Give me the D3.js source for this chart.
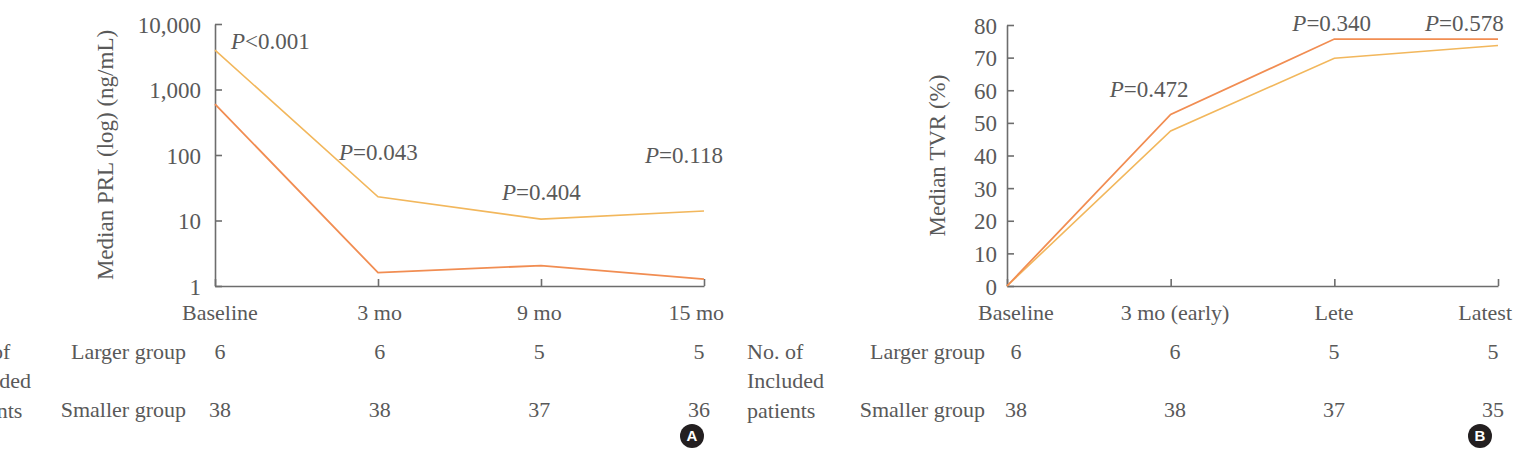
<!DOCTYPE html>
<html>
<head>
<meta charset="utf-8">
<script src="https://cdn.jsdelivr.net/npm/d3@7"></script>
<style>
  body { margin: 0; background: #fff; }
  text { font-family: "Liberation Serif", "Times New Roman", serif; fill: #595959; }
  .axis path, .axis line { stroke: #6d6d6d; stroke-width: 1.6; }
  .axis text { font-size: 23px; fill: #595959; font-family: "Liberation Serif", serif; }
</style>
</head>
<body>
<div id="chart"></div>
<script>
// ---- data ----
var prlCats = ["Baseline", "3 mo", "9 mo", "15 mo"];
var prlLarger = [4000, 23, 10.5, 14];      // yellow
var prlSmaller = [600, 1.6, 2.05, 1.27];   // orange
var prlTicks = [1, 10, 100, 1000, 10000];
var prlP = ["<0.001", "=0.043", "=0.404", "=0.118"];
var prlNLarger = [6, 6, 5, 5];
var prlNSmaller = [38, 38, 37, 36];

var tvrCats = ["Baseline", "3 mo (early)", "Lete", "Latest"];
var tvrLarger = [0, 47.5, 69.8, 73.7];     // yellow
var tvrSmaller = [0, 52.6, 75.7, 75.7];    // orange
var tvrTicks = [0, 10, 20, 30, 40, 50, 60, 70, 80];
var tvrP = ["=0.472", "=0.340", "=0.578"];
var tvrNLarger = [6, 6, 5, 5];
var tvrNSmaller = [38, 38, 37, 35];

var rowLabels = ["Larger group", "Smaller group"];
var blockLabel = ["No. of", "Included", "patients"];

var colLarger = "#f2b75c";
var colSmaller = "#f18d52";

var W = 1516, H = 457;
var svg = d3.select("#chart").append("svg")
    .attr("width", W).attr("height", H);

function panel(opt) {
    var x = d3.scalePoint().domain(opt.cats).range(opt.xr);
    var y = opt.y;

    // axes (inside ticks)
    var ya = svg.append("g").attr("class", "axis")
        .attr("transform", "translate(" + opt.xr[0] + ",0)")
        .call(d3.axisLeft(y).tickValues(opt.ticks).tickFormat(opt.fmt)
            .tickSize(-7).tickSizeOuter(0).tickPadding(opt.pad));
    ya.selectAll("text").attr("dy", "0.35em");

    svg.append("g").attr("class", "axis")
        .attr("transform", "translate(0," + opt.yr[0] + ")")
        .call(d3.axisBottom(x).tickSize(-7).tickSizeOuter(0).tickFormat(""));

    // y title
    svg.append("text")
        .attr("transform", "translate(" + opt.titleX + "," + (opt.yr[0] + opt.yr[1]) / 2 + ") rotate(-90)")
        .attr("text-anchor", "middle").attr("dy", "0.35em")
        .style("font-size", "23px")
        .text(opt.title);

    // lines
    var line = d3.line()
        .x(function(d, i) { return x(opt.cats[i]); })
        .y(function(d) { return y(d); });
    svg.append("path").datum(opt.larger)
        .attr("d", line).attr("fill", "none")
        .attr("stroke", colLarger).attr("stroke-width", 1.6);
    svg.append("path").datum(opt.smaller)
        .attr("d", line).attr("fill", "none")
        .attr("stroke", colSmaller).attr("stroke-width", 1.8);

    // P values
    opt.ann.forEach(function(a) {
        var t = svg.append("text")
            .attr("x", x(a.cat) + a.dx).attr("y", a.y)
            .attr("dy", "0.35em").style("font-size", "23px");
        t.append("tspan").style("font-style", "italic").text("P");
        t.append("tspan").text(a.txt);
    });

    // table
    var col = d3.scalePoint().domain(opt.cats).range(opt.colr);
    opt.cats.forEach(function(c, i) {
        var last = i === opt.cats.length - 1;
        svg.append("text")
            .attr("x", last ? x(c) + opt.lastEnd : col(c))
            .attr("y", 312).attr("dy", "0.35em")
            .attr("text-anchor", last ? "end" : "middle")
            .style("font-size", "22px")
            .text(c);
    });
    [opt.nLarger, opt.nSmaller].forEach(function(row, r) {
        var yy = r === 0 ? 351 : 409;
        svg.append("text")
            .attr("x", opt.rowEnd).attr("y", yy).attr("dy", "0.35em")
            .attr("text-anchor", "end").style("font-size", "22px")
            .text(rowLabels[r]);
        row.forEach(function(v, i) {
            svg.append("text")
                .attr("x", col(opt.cats[i])).attr("y", yy).attr("dy", "0.35em")
                .attr("text-anchor", "middle").style("font-size", "22px")
                .text(v);
        });
    });
    // row block label (cut by the left page edge in panel A, as in the source)
    blockLabel.forEach(function(s, i) {
        svg.append("text")
            .attr("x", opt.blockX).attr("y", 351 + i * 29.5).attr("dy", "0.35em")
            .style("font-size", "22px")
            .text(s);
    });

    // badge
    svg.append("circle")
        .attr("cx", opt.badge[0]).attr("cy", opt.badge[1]).attr("r", 12)
        .attr("fill", "#231f20");
    svg.append("text")
        .attr("x", opt.badge[0]).attr("y", opt.badge[1]).attr("dy", "0.36em")
        .attr("text-anchor", "middle")
        .style("font-family", "'Liberation Sans', Arial, sans-serif")
        .style("font-weight", "bold").style("font-size", "15px")
        .style("fill", "#fff")
        .text(opt.letter);
}

// Panel A
var yrA = [286, 24];
panel({
    cats: prlCats, xr: [215, 704], yr: yrA,
    y: d3.scaleLog().domain([1, 10000]).range(yrA),
    ticks: prlTicks, fmt: d3.format(","), pad: 14,
    title: "Median PRL (log) (ng/mL)", titleX: 105,
    larger: prlLarger, smaller: prlSmaller,
    ann: [
        {cat: "Baseline", dx: 16, y: 41, txt: prlP[0]},
        {cat: "3 mo", dx: -39, y: 152, txt: prlP[1]},
        {cat: "9 mo", dx: -39, y: 192, txt: prlP[2]},
        {cat: "15 mo", dx: -59, y: 155, txt: prlP[3]}
    ],
    colr: [220, 699], lastEnd: 20, rowEnd: 186, blockX: -46,
    nLarger: prlNLarger, nSmaller: prlNSmaller,
    badge: [692, 436], letter: "A"
});

// Panel B
var yrB = [286, 25];
panel({
    cats: tvrCats, xr: [1007, 1498], yr: yrB,
    y: d3.scaleLinear().domain([0, 80]).range(yrB),
    ticks: tvrTicks, fmt: d3.format("d"), pad: 10,
    title: "Median TVR (%)", titleX: 937,
    larger: tvrLarger, smaller: tvrSmaller,
    ann: [
        {cat: "3 mo (early)", dx: -61, y: 89, txt: tvrP[0]},
        {cat: "Lete", dx: -42, y: 23, txt: tvrP[1]},
        {cat: "Latest", dx: -73, y: 23, txt: tvrP[2]}
    ],
    colr: [1016, 1493], lastEnd: 14, rowEnd: 985, blockX: 747,
    nLarger: tvrNLarger, nSmaller: tvrNSmaller,
    badge: [1480, 436], letter: "B"
});
</script>
</body>
</html>
